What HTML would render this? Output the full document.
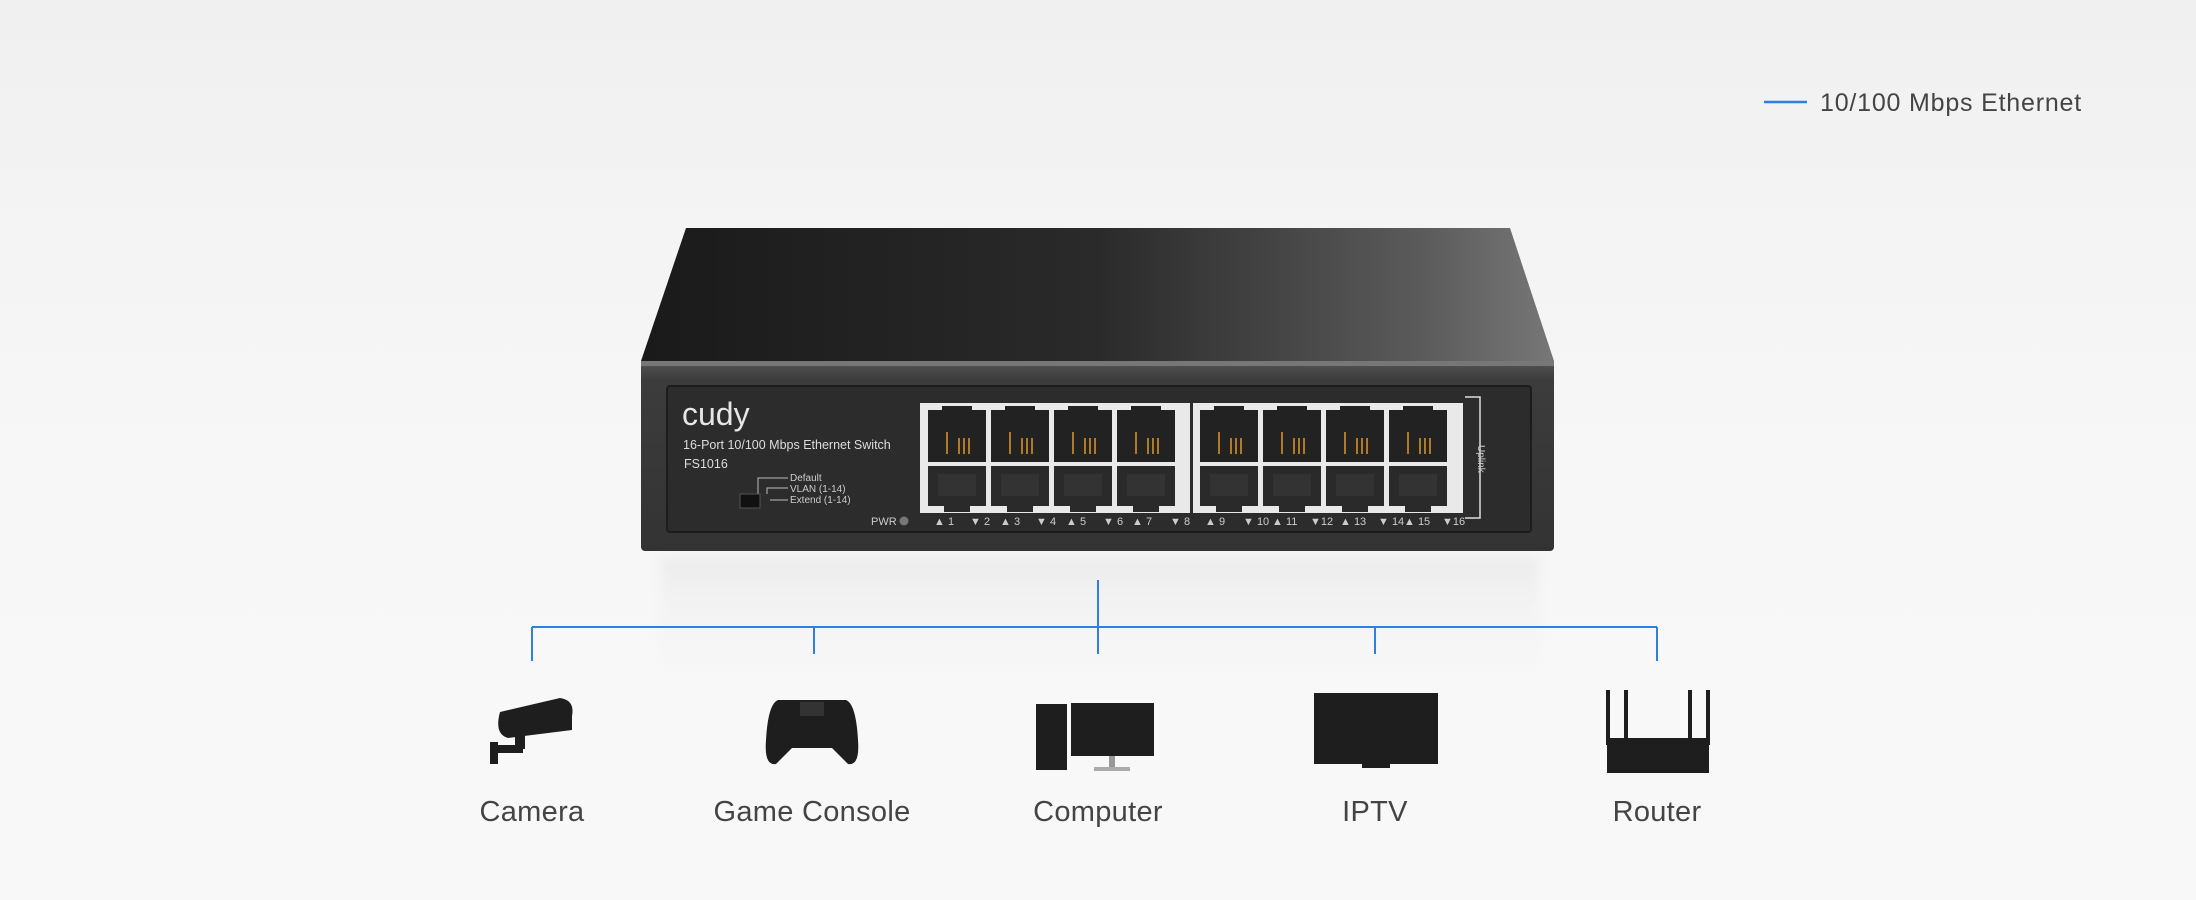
<!DOCTYPE html>
<html><head><meta charset="utf-8"><style>
html,body{margin:0;padding:0;width:2196px;height:900px;overflow:hidden;background:#f6f6f6}
svg{display:block}
text{font-family:"Liberation Sans",sans-serif}
</style></head><body>
<svg width="2196" height="900" viewBox="0 0 2196 900" xmlns="http://www.w3.org/2000/svg">
<defs>
<linearGradient id="bg" x1="0" y1="0" x2="0" y2="1"><stop offset="0" stop-color="#f0f0f0"/><stop offset="0.5" stop-color="#f7f7f7"/><stop offset="1" stop-color="#f8f8f8"/></linearGradient>
<linearGradient id="top" x1="0" y1="0" x2="1" y2="0"><stop offset="0" stop-color="#1a1a1a"/><stop offset="0.5" stop-color="#2a2a2a"/><stop offset="0.85" stop-color="#5a5a5a"/><stop offset="1" stop-color="#777"/></linearGradient>
<linearGradient id="front" x1="0" y1="0" x2="0" y2="1"><stop offset="0" stop-color="#555"/><stop offset="0.1" stop-color="#3c3c3c"/><stop offset="1" stop-color="#333"/></linearGradient>
<linearGradient id="refl" x1="0" y1="0" x2="0" y2="1"><stop offset="0" stop-color="#ececec"/><stop offset="1" stop-color="#f7f7f7" stop-opacity="0"/></linearGradient>
<filter id="blur"><feGaussianBlur stdDeviation="6"/></filter>
<g id="pt"><rect x="0" y="0" width="58" height="52" fill="#222"/><rect x="14" y="-4" width="30" height="8" fill="#222"/><rect x="18" y="22" width="2" height="22" fill="#b07a2a"/><rect x="30" y="28" width="2" height="16" fill="#b07a2a"/><rect x="35" y="28" width="2" height="16" fill="#b07a2a"/><rect x="40" y="28" width="2" height="16" fill="#b07a2a"/></g>
<g id="pb"><rect x="0" y="0" width="58" height="40" fill="#2a2a2a"/><rect x="16" y="38" width="26" height="8" fill="#2a2a2a"/><rect x="10" y="8" width="38" height="22" fill="#333"/></g>
</defs>
<rect width="2196" height="900" fill="url(#bg)"/>
<!-- legend -->
<line x1="1764" y1="102" x2="1807" y2="102" stroke="#2f7fe0" stroke-width="2.5"/>
<text x="1820" y="111" font-size="25" fill="#444" letter-spacing="0.8">10/100 Mbps Ethernet</text>
<!-- reflection -->
<rect x="660" y="556" width="880" height="140" fill="url(#refl)" filter="url(#blur)"/>
<!-- switch -->
<polygon points="686,228 1510,228 1554,361 641,361" fill="url(#top)"/>
<rect x="641" y="361" width="913" height="190" rx="4" fill="url(#front)"/>
<rect x="641" y="361" width="913" height="5" fill="#777"/>
<rect x="667" y="386" width="864" height="146" rx="3" fill="#2c2c2c" stroke="#1c1c1c" stroke-width="2"/>
<text x="682" y="425" font-size="32" fill="#e6e6e6">cudy</text>
<text x="683" y="449" font-size="12.5" fill="#ddd">16-Port 10/100 Mbps Ethernet Switch</text>
<text x="684" y="468" font-size="12.5" fill="#ddd">FS1016</text>
<text x="790" y="481" font-size="10" fill="#ccc">Default</text>
<text x="790" y="492" font-size="10" fill="#ccc">VLAN (1-14)</text>
<text x="790" y="503" font-size="10" fill="#ccc">Extend (1-14)</text>
<path d="M758,498 V478 H788 M767,494 V488 H788 M770,500 H788" stroke="#bbb" fill="none" stroke-width="1"/>
<rect x="740" y="494" width="20" height="14" fill="#111" stroke="#555"/>
<text x="871" y="525" font-size="11" fill="#ccc">PWR</text>
<circle cx="904" cy="521" r="4.5" fill="#777"/>
<rect x="920" y="403" width="270" height="110" fill="#e9e9e9"/>
<rect x="1193" y="403" width="270" height="110" fill="#e9e9e9"/>
<g>
<use href="#pt" x="928" y="410"/><use href="#pt" x="991" y="410"/><use href="#pt" x="1054" y="410"/><use href="#pt" x="1117" y="410"/>
<use href="#pt" x="1200" y="410"/><use href="#pt" x="1263" y="410"/><use href="#pt" x="1326" y="410"/><use href="#pt" x="1389" y="410"/>
<use href="#pb" x="928" y="466"/><use href="#pb" x="991" y="466"/><use href="#pb" x="1054" y="466"/><use href="#pb" x="1117" y="466"/>
<use href="#pb" x="1200" y="466"/><use href="#pb" x="1263" y="466"/><use href="#pb" x="1326" y="466"/><use href="#pb" x="1389" y="466"/>
</g>
<path d="M1465,397 H1480 V518 H1465" stroke="#ddd" fill="none" stroke-width="1.5"/>
<text x="1478" y="445" font-size="10" fill="#ccc" transform="rotate(90 1478 445)">Uplink</text>
<text y="525" font-size="11" fill="#ccc">
<tspan x="934">▲ 1</tspan><tspan x="970">▼ 2</tspan><tspan x="1000">▲ 3</tspan><tspan x="1036">▼ 4</tspan><tspan x="1066">▲ 5</tspan><tspan x="1103">▼ 6</tspan><tspan x="1132">▲ 7</tspan><tspan x="1170">▼ 8</tspan>
<tspan x="1205">▲ 9</tspan><tspan x="1243">▼ 10</tspan><tspan x="1272">▲ 11</tspan><tspan x="1310">▼12</tspan><tspan x="1340">▲ 13</tspan><tspan x="1378">▼ 14</tspan><tspan x="1404">▲ 15</tspan><tspan x="1442">▼16</tspan>
</text>
<!-- connectors -->
<g stroke="#2f7fe0" stroke-width="2" fill="none">
<line x1="1098" y1="580" x2="1098" y2="654"/>
<line x1="532" y1="627" x2="1657" y2="627"/>
<line x1="532" y1="627" x2="532" y2="661"/>
<line x1="814" y1="627" x2="814" y2="654"/>
<line x1="1375" y1="627" x2="1375" y2="654"/>
<line x1="1657" y1="627" x2="1657" y2="661"/>
</g>
<!-- icons -->
<g fill="#1e1e1e">
<path d="M500,712 L560,698 Q575,700 572,716 L572,730 L508,738 Q494,734 500,712Z"/>
<rect x="515" y="735" width="10" height="14"/><rect x="493" y="745" width="30" height="8"/><rect x="490" y="742" width="8" height="22"/>
<path d="M778,700 L846,700 Q856,704 858,740 Q860,766 848,764 L832,748 L792,748 L776,764 Q764,766 766,740 Q768,704 778,700Z"/>
<rect x="800" y="702" width="24" height="14" fill="#333"/>
<rect x="1036" y="704" width="31" height="66"/>
<rect x="1071" y="703" width="83" height="53"/>
<rect x="1109" y="756" width="6" height="13" fill="#999"/><rect x="1094" y="767" width="36" height="4" fill="#aaa"/>
<rect x="1314" y="693" width="124" height="71"/>
<rect x="1362" y="764" width="28" height="4"/>
<rect x="1607" y="738" width="102" height="35"/>
<rect x="1606" y="690" width="4" height="55"/><rect x="1624" y="690" width="4" height="50"/><rect x="1688" y="690" width="4" height="50"/><rect x="1706" y="690" width="4" height="55"/>
</g>
<!-- labels -->
<g font-size="29" fill="#444" text-anchor="middle" letter-spacing="0.3">
<text x="532" y="821">Camera</text>
<text x="812" y="821">Game Console</text>
<text x="1098" y="821">Computer</text>
<text x="1375" y="821">IPTV</text>
<text x="1657" y="821">Router</text>
</g>
</svg>
</body></html>
